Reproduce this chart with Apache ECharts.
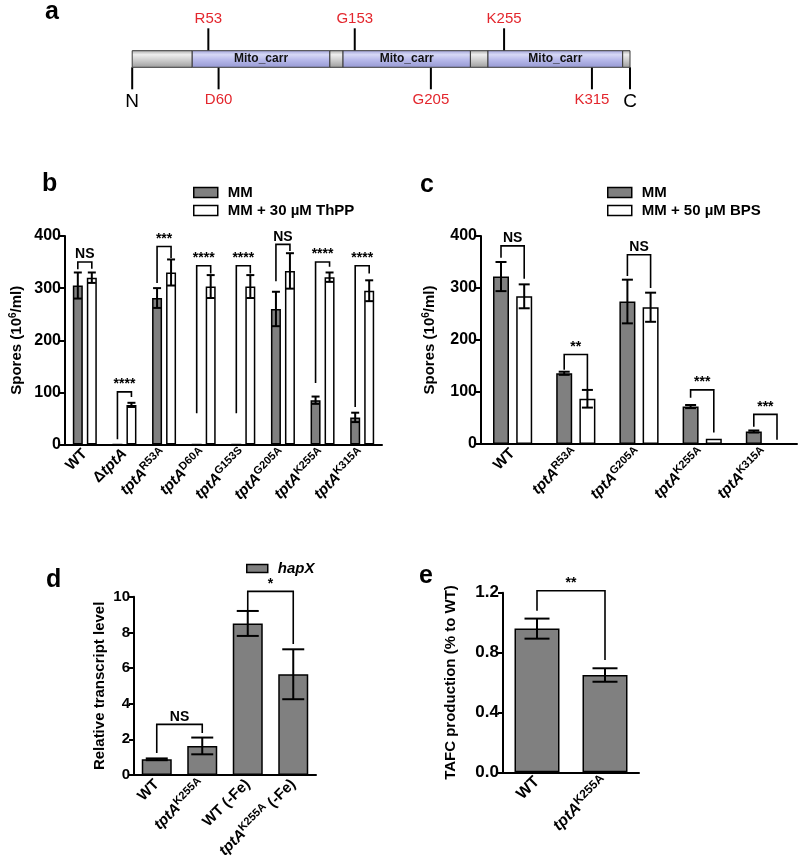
<!DOCTYPE html>
<html><head><meta charset="utf-8">
<script src="https://cdn.jsdelivr.net/npm/echarts@6/dist/echarts.min.js"></script>
<style>html,body{margin:0;padding:0;background:#fff}#c{width:800px;height:867px}</style>
</head><body><div id="c"></div>
<script>
// ---------- Panel a : TptA domain map ----------
const proteinLength = 341;
const segStart = [1, 42, 136, 145, 232, 244, 336];
const segEnd   = [42, 136, 145, 232, 244, 336, 341];
const segKind  = ['', 'Mito_carr', '', 'Mito_carr', '', 'Mito_carr', ''];
const siteNames = ['R53', 'D60', 'G153', 'G205', 'K255', 'K315'];
const sitePos   = [53, 60, 153, 205, 255, 315];
const siteSide  = ['up', 'down', 'up', 'down', 'up', 'down'];
const termNames = ['N', 'C'];
const termPos   = [1, 341];

// ---------- Panel b ----------
const catsB = ['WT', 'ΔtptA', 'tptA^R53A', 'tptA^D60A', 'tptA^G153S', 'tptA^G205A', 'tptA^K255A', 'tptA^K315A'];
const seriesNamesB = ['MM', 'MM + 30 µM ThPP'];
const mmB      = [305, 0, 281, 0, 0, 260, 85, 52];
const mmErrB   = [25, 0, 19, 0, 0, 33, 7, 9];
const thppB    = [320, 76, 330, 303, 303, 333, 321, 295];
const thppErrB = [10, 4, 25, 22, 22, 34, 9, 20];
const sigLabelB    = ['NS', '****', '***', '****', '****', 'NS', '****', '****'];
const sigTopB      = [350, 101, 380, 343, 343, 384, 350, 343];
const sigLeftEndB  = [336, 10, 310, 60, 60, 313, 118, 72];
const sigRightEndB = [337, 91, 358, 328, 328, 371, 341, 328];
const yMaxB = 400, yStepB = 100;

// ---------- Panel c ----------
const catsC = ['WT', 'tptA^R53A', 'tptA^G205A', 'tptA^K255A', 'tptA^K315A'];
const seriesNamesC = ['MM', 'MM + 50 µM BPS'];
const mmC     = [322, 136, 274, 72, 24];
const mmErrC  = [28, 3, 42, 3, 2];
const bpsC    = [284, 87, 263, 10, 0];
const bpsErrC = [23, 17, 28, 0, 0];
const sigLabelC    = ['NS', '**', 'NS', '***', '***'];
const sigTopC      = [381, 172, 364, 104, 57];
const sigLeftEndC  = [358, 143, 323, 89, 33];
const sigRightEndC = [318, 105, 300, 22, 8];
const yMaxC = 400, yStepC = 100;

// ---------- Panel d ----------
const catsD = ['WT', 'tptA^K255A', 'WT (-Fe)', 'tptA^K255A (-Fe)'];
const seriesNameD = 'hapX';
const hapX    = [0.88, 1.63, 8.5, 5.65];
const hapXErr = [0.05, 0.47, 0.7, 1.4];
const sigPairD     = [[0, 1], [2, 3]];
const sigLabelD    = ['NS', '*'];
const sigTopD      = [2.84, 10.3];
const sigLeftEndD  = [1.23, 9.25];
const sigRightEndD = [2.35, 7.35];
const yMaxD = 10, yStepD = 2;

// ---------- Panel e ----------
const catsE = ['WT', 'tptA^K255A'];
const tafc    = [0.96, 0.65];
const tafcErr = [0.067, 0.045];
const sigPairE     = [[0, 1]];
const sigLabelE    = ['**'];
const sigTopE      = [1.213];
const sigLeftEndE  = [1.08];
const sigRightEndE = [0.75];
const yMaxE = 1.2, yStepE = 0.4;

// ---------- styling ----------
const FONT = "'Liberation Sans', Arial, Helvetica, sans-serif";
const GRAY = '#808080';
const RED = '#e3262d';

function fmtCat(lab) {
  let out = '';
  let s = lab;
  if (s.startsWith('Δ')) { out += '{n|Δ}'; s = s.slice(1); }
  const k = s.indexOf('^');
  if (k < 0) return out + (s === 'tptA' ? '{i|tptA}' : '{n|' + s + '}');
  out += '{i|' + s.slice(0, k) + '}';
  const rest = s.slice(k + 1);
  const sp = rest.indexOf(' ');
  if (sp < 0) out += '{s|' + rest + '}';
  else out += '{s|' + rest.slice(0, sp) + '}{n|' + rest.slice(sp) + '}';
  return out;
}
function labRich(fs) {
  return {
    n: { fontSize: fs, fontWeight: 'bold', fontFamily: FONT, color: '#000' },
    i: { fontSize: fs, fontWeight: 'bold', fontStyle: 'italic', fontFamily: FONT, color: '#000' },
    s: { fontSize: fs - 4, fontWeight: 'bold', fontFamily: FONT, color: '#000', verticalAlign: 'bottom', padding: [0, 0, 8, 0] }
  };
}

function catAxis(gi, data, fs) {
  return {
    type: 'category', gridIndex: gi, data: data,
    axisLine: { lineStyle: { color: '#000', width: 2 } },
    axisTick: { alignWithLabel: true, length: 5, lineStyle: { color: '#000', width: 2 } },
    axisLabel: { rotate: 45, margin: 7, formatter: fmtCat, rich: labRich(fs), color: '#000' }
  };
}
function valAxis(gi, max, step, name, gap, fs, fmt) {
  return {
    type: 'value', gridIndex: gi, min: 0, max: max, interval: step,
    axisLine: { show: true, lineStyle: { color: '#000', width: 2 } },
    axisTick: { show: true, length: 5, lineStyle: { color: '#000', width: 2 } },
    splitLine: { show: false },
    axisLabel: { fontSize: fs, fontWeight: 'bold', fontFamily: FONT, color: '#000', margin: 4, formatter: fmt },
    name: name, nameLocation: 'middle', nameGap: gap,
    nameTextStyle: {
      fontSize: 15, fontWeight: 'bold', fontFamily: FONT, color: '#000',
      rich: {
        t: { fontSize: 15, fontWeight: 'bold', fontFamily: FONT, color: '#000' },
        u: { fontSize: 10, fontWeight: 'bold', fontFamily: FONT, color: '#000', verticalAlign: 'bottom', padding: [0, 0, 7, 0] }
      }
    }
  };
}
function barSeries(ai, name, data, color, width, gap) {
  return {
    type: 'bar', name: name, xAxisIndex: ai, yAxisIndex: ai, data: data,
    barWidth: width, barGap: gap, z: 2,
    itemStyle: { color: color, borderColor: '#000', borderWidth: 1.5 },
    emphasis: { disabled: true }
  };
}
function errSeries(ai, vals, errs, dx, cap) {
  return {
    type: 'custom', xAxisIndex: ai, yAxisIndex: ai, z: 5, silent: true,
    data: vals.map((v, i) => [i, v, errs[i]]),
    renderItem: function (params, api) {
      const c = api.value(0), v = api.value(1), e = api.value(2);
      if (!e) return null;
      const top = api.coord([c, v + e]);
      const bot = api.coord([c, v - e]);
      const x = top[0] + dx;
      const st = { stroke: '#000', lineWidth: 2 };
      return { type: 'group', children: [
        { type: 'line', shape: { x1: x, y1: top[1], x2: x, y2: bot[1] }, style: st },
        { type: 'line', shape: { x1: x - cap, y1: top[1], x2: x + cap, y2: top[1] }, style: st },
        { type: 'line', shape: { x1: x - cap, y1: bot[1], x2: x + cap, y2: bot[1] }, style: st }
      ] };
    }
  };
}
function bracketSeries(ai, pairs, tops, lefts, rights, labels, dxL, dxR) {
  return {
    type: 'custom', xAxisIndex: ai, yAxisIndex: ai, z: 6, silent: true, clip: false,
    data: pairs.map((p, i) => [p[0], p[1], tops[i], lefts[i], rights[i]]),
    renderItem: function (params, api) {
      const cl = api.value(0), cr = api.value(1);
      const t = api.coord([cl, api.value(2)]);
      const pl = api.coord([cl, api.value(3)]);
      const pr = api.coord([cr, api.value(4)]);
      const xl = pl[0] + dxL, xr = pr[0] + dxR, yt = t[1];
      return { type: 'group', children: [
        { type: 'polyline', shape: { points: [[xl, pl[1]], [xl, yt], [xr, yt], [xr, pr[1]]] },
          style: { stroke: '#000', lineWidth: 1.6, fill: null } },
        { type: 'text', style: { text: labels[params.dataIndex], x: (xl + xr) / 2, y: yt - 0.5,
          align: 'center', verticalAlign: 'bottom', fontSize: 14, fontWeight: 'bold', fontFamily: FONT, fill: '#000' } }
      ] };
    }
  };
}
const idx = n => Array.from({ length: n }, (_, i) => [i, i]);

// ---------- panel a series ----------
const BAR_H = 8.3;
const domainSeries = {
  type: 'custom', xAxisIndex: 0, yAxisIndex: 0, silent: true, z: 3,
  data: segStart.map((s, i) => [s, segEnd[i]]),
  renderItem: function (params, api) {
    const p0 = api.coord([api.value(0), 0]);
    const p1 = api.coord([api.value(1), 0]);
    const kind = segKind[params.dataIndex];
    const isDom = kind !== '';
    const fill = isDom
      ? new echarts.graphic.LinearGradient(0, 0, 0, 1, [
          { offset: 0, color: '#9ea1d8' }, { offset: 0.25, color: '#d6d8f5' },
          { offset: 0.55, color: '#b7b9ea' }, { offset: 1, color: '#9598d2' }])
      : new echarts.graphic.LinearGradient(0, 0, 0, 1, [
          { offset: 0, color: '#a8a8a8' }, { offset: 0.25, color: '#eeeeee' },
          { offset: 0.55, color: '#cfcfcf' }, { offset: 1, color: '#9c9c9c' }]);
    const children = [{ type: 'rect', shape: { x: p0[0], y: p0[1] - BAR_H, width: p1[0] - p0[0], height: 2 * BAR_H },
      style: { fill: fill, stroke: '#3a3a3a', lineWidth: 1 } }];
    if (isDom) children.push({ type: 'text', style: { text: kind, x: (p0[0] + p1[0]) / 2, y: p0[1],
      align: 'center', verticalAlign: 'middle', fontSize: 12, fontWeight: 'bold', fontFamily: FONT, fill: '#111' } });
    return { type: 'group', children: children };
  }
};
const siteSeries = {
  type: 'custom', xAxisIndex: 0, yAxisIndex: 0, silent: true, z: 2, clip: false,
  data: sitePos.map(p => [p, 0]),
  renderItem: function (params, api) {
    const c = api.coord([api.value(0), 0]);
    const up = siteSide[params.dataIndex] === 'up';
    const y1 = up ? c[1] - BAR_H : c[1] + BAR_H;
    const y2 = up ? c[1] - 30.7 : c[1] + 30.3;
    const ly = up ? c[1] - 40.5 : c[1] + 41;
    return { type: 'group', children: [
      { type: 'line', shape: { x1: c[0], y1: y1, x2: c[0], y2: y2 }, style: { stroke: '#000', lineWidth: 2 } },
      { type: 'text', style: { text: siteNames[params.dataIndex], x: c[0], y: ly, align: 'center', verticalAlign: 'middle',
        fontSize: 15, fontFamily: FONT, fill: RED } }
    ] };
  }
};
const termSeries = {
  type: 'custom', xAxisIndex: 0, yAxisIndex: 0, silent: true, z: 2, clip: false,
  data: termPos.map(p => [p, 0]),
  renderItem: function (params, api) {
    const c = api.coord([api.value(0), 0]);
    return { type: 'group', children: [
      { type: 'line', shape: { x1: c[0], y1: c[1] + BAR_H, x2: c[0], y2: c[1] + 30.3 }, style: { stroke: '#000', lineWidth: 2 } },
      { type: 'text', style: { text: termNames[params.dataIndex], x: c[0], y: c[1] + 43, align: 'center', verticalAlign: 'middle',
        fontSize: 19, fontFamily: FONT, fill: '#000' } }
    ] };
  }
};

const legendText = { fontSize: 15, fontWeight: 'bold', fontFamily: FONT, color: '#000', padding: [0, 0, 0, 5] };
const grayItem = { color: GRAY, borderColor: '#000', borderWidth: 1.5 };
const whiteItem = { color: '#fff', borderColor: '#000', borderWidth: 1.5 };
const titleStyle = { fontSize: 25, fontWeight: 'bold', fontFamily: FONT, color: '#000' };

const option = {
  animation: false,
  backgroundColor: '#fff',
  title: [
    { text: 'a', left: 45, top: 0, padding: 0, textStyle: titleStyle },
    { text: 'b', left: 42, top: 172, padding: 0, textStyle: titleStyle },
    { text: 'c', left: 420, top: 173, padding: 0, textStyle: titleStyle },
    { text: 'd', left: 46, top: 568, padding: 0, textStyle: titleStyle },
    { text: 'e', left: 419, top: 564, padding: 0, textStyle: titleStyle }
  ],
  legend: [
    { left: 193, top: 185, padding: 0, orient: 'vertical', icon: 'rect', itemWidth: 24, itemHeight: 10, itemGap: 3, selectedMode: false,
      data: [{ name: seriesNamesB[0], itemStyle: grayItem }, { name: seriesNamesB[1], itemStyle: whiteItem }], textStyle: legendText },
    { left: 607, top: 185, padding: 0, orient: 'vertical', icon: 'rect', itemWidth: 24, itemHeight: 10, itemGap: 3, selectedMode: false,
      data: [{ name: seriesNamesC[0], itemStyle: grayItem }, { name: seriesNamesC[1], itemStyle: whiteItem }], textStyle: legendText },
    { left: 246, top: 561, padding: 0, orient: 'vertical', icon: 'rect', itemWidth: 21, itemHeight: 8, selectedMode: false,
      data: [{ name: seriesNameD, itemStyle: grayItem }],
      textStyle: Object.assign({}, legendText, { fontStyle: 'italic' }) }
  ],
  grid: [
    { left: 132.2, top: 29, width: 497.8, height: 60 },
    { left: 65, top: 236, width: 317, height: 208.5 },
    { left: 481, top: 236, width: 316, height: 208 },
    { left: 134, top: 596.7, width: 182, height: 178.3 },
    { left: 503, top: 592.7, width: 136, height: 179.6 }
  ],
  xAxis: [
    { type: 'value', gridIndex: 0, min: 1, max: proteinLength, show: false },
    catAxis(1, catsB, 15), catAxis(2, catsC, 15), catAxis(3, catsD, 15), catAxis(4, catsE, 16)
  ],
  yAxis: [
    { type: 'value', gridIndex: 0, min: -1, max: 1, show: false },
    valAxis(1, yMaxB, yStepB, '{t|Spores (10}{u|6}{t|/ml)}', 40, 16),
    valAxis(2, yMaxC, yStepC, '{t|Spores (10}{u|6}{t|/ml)}', 43, 16),
    valAxis(3, yMaxD, yStepD, 'Relative transcript level', 27, 15),
    valAxis(4, yMaxE, yStepE, 'TAFC production (% to WT)', 45, 17, v => v.toFixed(1))
  ],
  series: [
    domainSeries, siteSeries, termSeries,
    barSeries(1, seriesNamesB[0], mmB, GRAY, 10, '40%'),
    barSeries(1, seriesNamesB[1], thppB, '#fff', 10, '40%'),
    errSeries(1, mmB, mmErrB, -7, 4),
    errSeries(1, thppB, thppErrB, 7, 4),
    bracketSeries(1, idx(catsB.length), sigTopB, sigLeftEndB, sigRightEndB, sigLabelB, -7, 7),
    barSeries(2, seriesNamesC[0], mmC, GRAY, 16, '45%'),
    barSeries(2, seriesNamesC[1], bpsC, '#fff', 16, '45%'),
    errSeries(2, mmC, mmErrC, -11.6, 5.5),
    errSeries(2, bpsC, bpsErrC, 11.6, 5.5),
    bracketSeries(2, idx(catsC.length), sigTopC, sigLeftEndC, sigRightEndC, sigLabelC, -11.6, 11.6),
    barSeries(3, seriesNameD, hapX, GRAY, 30, '0%'),
    errSeries(3, hapX, hapXErr, 0, 11),
    bracketSeries(3, sigPairD, sigTopD, sigLeftEndD, sigRightEndD, sigLabelD, 0, 0),
    barSeries(4, 'TAFC', tafc, GRAY, 45, '0%'),
    errSeries(4, tafc, tafcErr, 0, 12.5),
    bracketSeries(4, sigPairE, sigTopE, sigLeftEndE, sigRightEndE, sigLabelE, 0, 0)
  ]
};
const chart = echarts.init(document.getElementById('c'), null, { renderer: 'canvas' });
chart.setOption(option);
</script></body></html>
